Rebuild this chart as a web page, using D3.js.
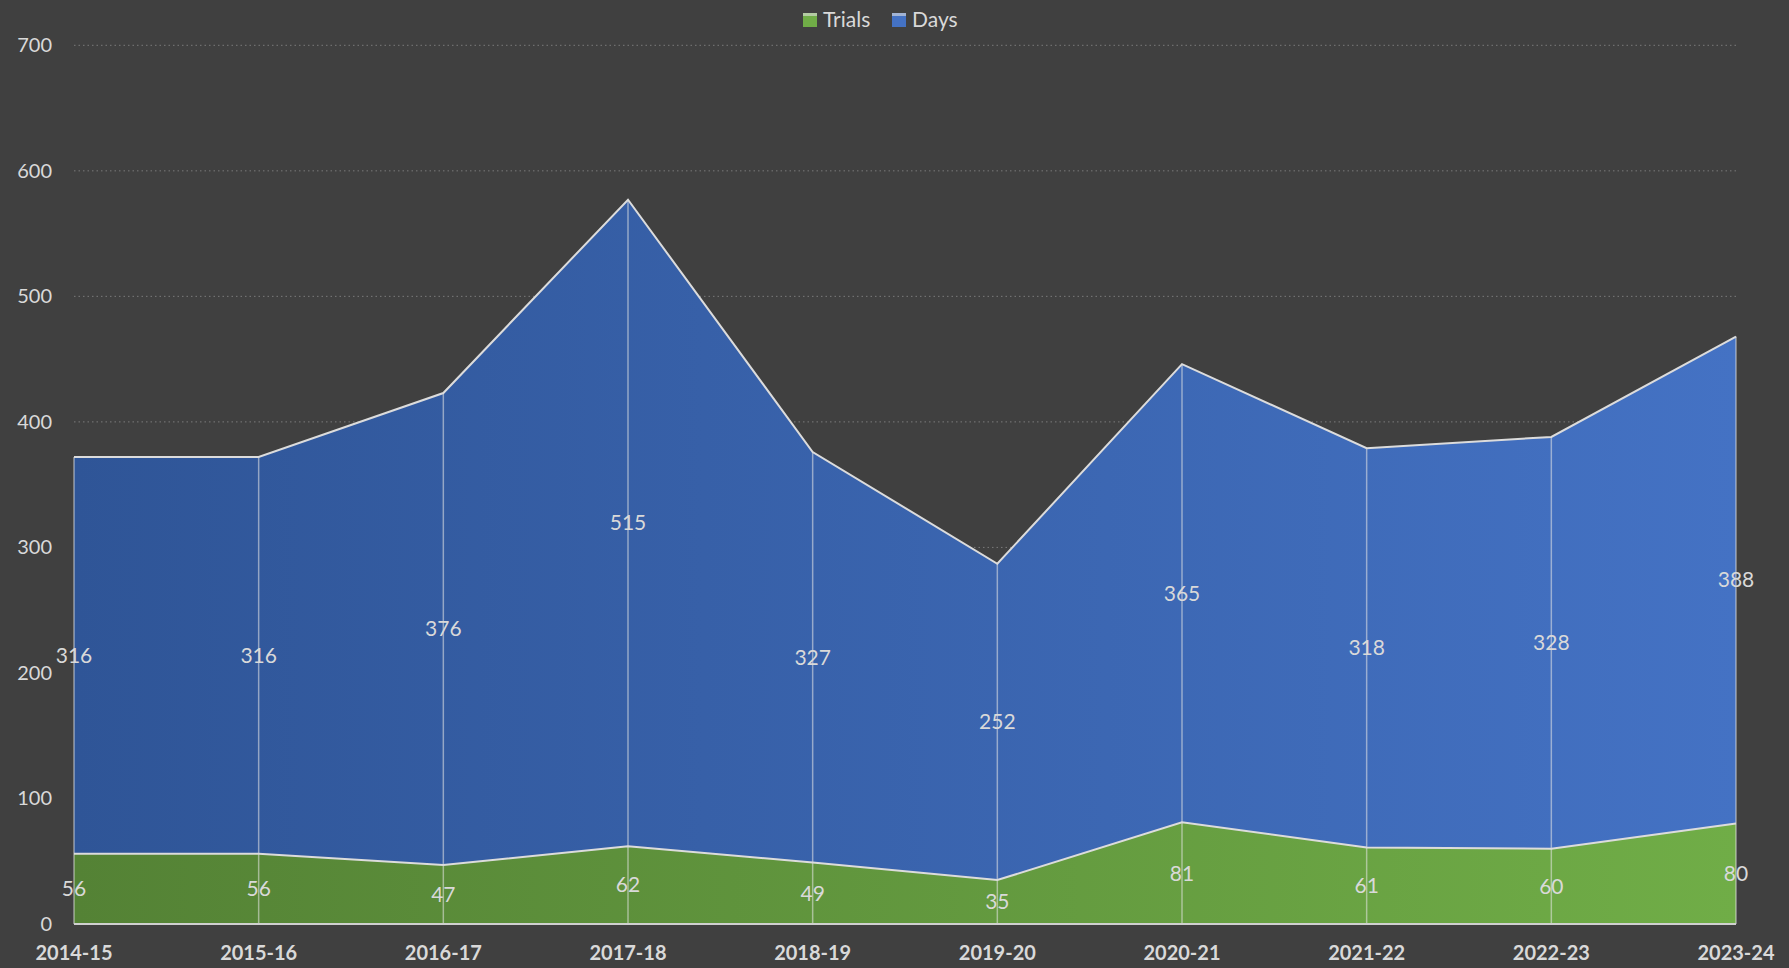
<!DOCTYPE html>
<html><head><meta charset="utf-8">
<script src="https://cdnjs.cloudflare.com/ajax/libs/d3/7.8.5/d3.min.js"></script>
<style>html,body{margin:0;padding:0;background:#404040;overflow:hidden}</style>
</head><body>
<svg id="c" width="1789" height="968"></svg>
<script>
const categories = ["2014-15","2015-16","2016-17","2017-18","2018-19","2019-20","2020-21","2021-22","2022-23","2023-24"];
const trials = [56,56,47,62,49,35,81,61,60,80];
const days = [316,316,376,515,327,252,365,318,328,388];
const yTicks = [0,100,200,300,400,500,600,700];
const seriesNames = ["Trials","Days"];

const W=1789,H=968;
const m={left:74,right:W-1736,top:45.3,bottom:H-924};
const svg=d3.select("#c");
svg.append("rect").attr("width",W).attr("height",H).attr("fill","#404040");
const font="Lato, 'Open Sans', sans-serif";
const x=d3.scalePoint().domain(categories).range([m.left,W-m.right]);
const y=d3.scaleLinear().domain([0,700]).range([H-m.bottom,m.top]);

const defs=svg.append("defs");
function grad(id,c1,c2){
  const g=defs.append("linearGradient").attr("id",id).attr("gradientUnits","userSpaceOnUse")
    .attr("x1",m.left).attr("x2",W-m.right).attr("y1",0).attr("y2",0);
  g.append("stop").attr("offset","0%").attr("stop-color",c1);
  g.append("stop").attr("offset","100%").attr("stop-color",c2);
}
grad("gG","#548235","#70AD47");
grad("gB","#2F5597","#4472C4");

// gridlines
svg.append("g").selectAll("line").data(yTicks.filter(d=>d>0)).join("line")
  .attr("x1",m.left).attr("x2",W-m.right).attr("y1",d=>y(d)).attr("y2",d=>y(d))
  .attr("stroke","#7a7a7a").attr("stroke-width",1).attr("stroke-dasharray","1.5,3");

const data=categories.map((c,i)=>({cat:c,Trials:trials[i],Days:days[i]}));
const stack=d3.stack().keys(seriesNames)(data);
const area=d3.area().x(d=>x(d.data.cat)).y0(d=>y(d[0])).y1(d=>y(d[1]));
const fills={Trials:"url(#gG)",Days:"url(#gB)"};
svg.append("g").selectAll("path").data(stack).join("path")
  .attr("d",area).attr("fill",d=>fills[d.key]);

// drop lines
svg.append("g").selectAll("line").data(data).join("line")
  .attr("x1",d=>x(d.cat)).attr("x2",d=>x(d.cat))
  .attr("y1",y(0)).attr("y2",d=>y(d.Trials+d.Days))
  .attr("stroke","rgba(230,230,230,0.55)").attr("stroke-width",1.5);

// outlines
const line=d3.line().x(d=>x(d.data.cat)).y(d=>y(d[1]));
svg.append("g").selectAll("path").data(stack).join("path")
  .attr("d",line).attr("fill","none").attr("stroke","#dcdcdc").attr("stroke-width",2);

// axis line
svg.append("line").attr("x1",m.left).attr("x2",W-m.right).attr("y1",y(0)).attr("y2",y(0))
  .attr("stroke","#d0d0d0").attr("stroke-width",2);

// y labels
svg.append("g").selectAll("text").data(yTicks).join("text")
  .attr("x",52).attr("y",d=>y(d)).attr("dy","0.35em").attr("text-anchor","end")
  .attr("fill","#d9d9d9").attr("font-family",font).attr("font-size",20).text(d=>d);

// x labels
svg.append("g").selectAll("text").data(categories).join("text")
  .attr("x",d=>x(d)).attr("y",953).attr("dy","0.35em").attr("text-anchor","middle")
  .attr("fill","#d9d9d9").attr("font-family",font).attr("font-weight","bold").attr("font-size",20).text(d=>d);

// data labels
stack.forEach(s=>{
  svg.append("g").selectAll("text").data(s).join("text")
    .attr("x",d=>x(d.data.cat)).attr("y",d=>y((d[0]+d[1])/2)).attr("dy","0.35em")
    .attr("text-anchor","middle").attr("fill","#d9d9d9").attr("font-family",font).attr("font-size",21)
    .text(d=>d.data[s.key]);
});

// legend
const legColors={Trials:["#548235","#70AD47"],Days:["#2F5597","#4472C4"]};
const legX={Trials:803,Days:892};
seriesNames.forEach(k=>{
  const g=svg.append("g").attr("transform",`translate(${legX[k]},13)`);
  g.append("rect").attr("width",14).attr("height",14).attr("fill",legColors[k][1]);
  g.append("rect").attr("width",14).attr("height",3).attr("fill","#e0e0e0").attr("opacity",0.6);
  g.append("text").attr("x",20).attr("y",7).attr("dy","0.35em").attr("fill","#d9d9d9")
    .attr("font-family",font).attr("font-size",21).text(k);
});
</script>
</body></html>
